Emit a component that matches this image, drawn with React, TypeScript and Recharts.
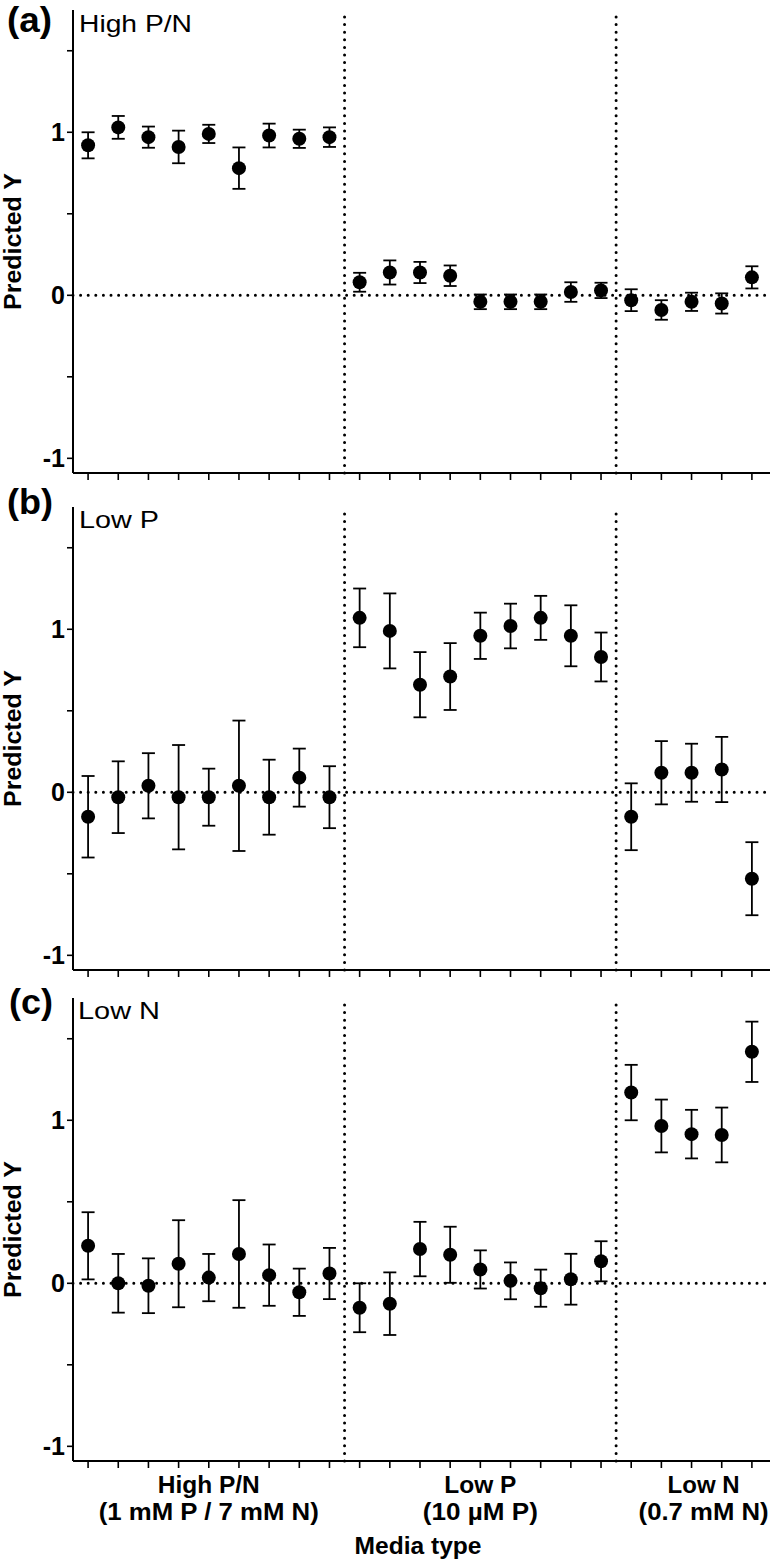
import React from "react";
import { ScatterChart, Scatter, XAxis, YAxis, ErrorBar, ReferenceLine } from "recharts";

// 23 strains per panel: 9 grown in High P/N, 9 in Low P, 5 in Low N
const groupSizes = [9, 9, 5];
const groupNames = ["High P/N", "Low P", "Low N"];
const groupMedia = ["(1 mM P / 7 mM N)", "(10 µM P)", "(0.7 mM N)"];
const groupLabelAt = [4, 13, 20.4];

const yTicks = [-1, -0.5, 0, 0.5, 1, 1.5];

// (a) model trained on High P/N
const highPN = [0.92, 1.03, 0.97, 0.91, 0.99, 0.78, 0.98, 0.96, 0.97, 0.08, 0.14, 0.14, 0.12, -0.04, -0.04, -0.04, 0.02, 0.03, -0.03, -0.09, -0.04, -0.05, 0.11];
const highPNErr = [0.08, 0.07, 0.065, 0.1, 0.056, 0.127, 0.073, 0.056, 0.06, 0.058, 0.074, 0.065, 0.063, 0.045, 0.045, 0.045, 0.06, 0.047, 0.067, 0.06, 0.056, 0.062, 0.068];

// (b) model trained on Low P
const lowP = [-0.15, -0.03, 0.04, -0.03, -0.03, 0.04, -0.03, 0.09, -0.03, 1.07, 0.99, 0.66, 0.71, 0.96, 1.02, 1.07, 0.96, 0.83, -0.15, 0.12, 0.12, 0.14, -0.53];
const lowPErr = [0.25, 0.22, 0.2, 0.32, 0.175, 0.4, 0.23, 0.178, 0.19, 0.18, 0.23, 0.2, 0.205, 0.142, 0.137, 0.135, 0.187, 0.15, 0.205, 0.194, 0.178, 0.2, 0.224];

// (c) model trained on Low N
const lowN = [0.23, 0.0, -0.015, 0.12, 0.035, 0.18, 0.05, -0.055, 0.06, -0.15, -0.125, 0.21, 0.175, 0.085, 0.015, -0.03, 0.025, 0.135, 1.17, 0.965, 0.915, 0.91, 1.42];
const lowNErr = [0.206, 0.18, 0.168, 0.267, 0.145, 0.33, 0.188, 0.145, 0.157, 0.15, 0.192, 0.167, 0.172, 0.117, 0.113, 0.114, 0.156, 0.123, 0.17, 0.162, 0.149, 0.168, 0.185];

const FONT = '"Liberation Sans", Arial, Helvetica, sans-serif';

// the original's typeface is a bit wider than Arial, so stretch the longer strings
const textWidth: Record<string, number> = {
  "High P/N": 102,
  "Low P": 72,
  "Low N": 72,
  "(1 mM P / 7 mM N)": 220,
  "(10 µM P)": 115,
  "(0.7 mM N)": 130,
};

const nPoints = groupSizes.reduce((a, b) => a + b, 0);
const xTicks = Array.from({ length: nPoints }, (_, i) => i);
const dividers = [groupSizes[0] - 0.5, groupSizes[0] + groupSizes[1] - 0.5];
const xDomain = [-0.5, nPoints - 0.4];

const dotted = { stroke: "#000", strokeWidth: 3, strokeDasharray: "0 7.6", strokeLinecap: "round" as const };
const boldText = { fontFamily: FONT, fontWeight: 700, fill: "#000" };

function Dot(props: any) {
  return <circle cx={props.cx} cy={props.cy} r={7} fill="#000" />;
}

function GroupLabel({ viewBox, i }: { viewBox?: any; i: number }) {
  if (!viewBox) return null;
  const x = viewBox.x;
  const bottom = viewBox.y + viewBox.height;
  return (
    <g>
      <text x={x} y={bottom + 32} textAnchor="middle" fontSize={23.5} style={boldText}
        textLength={textWidth[groupNames[i]]} lengthAdjust="spacingAndGlyphs">
        {groupNames[i]}
      </text>
      <text x={x} y={bottom + 59} textAnchor="middle" fontSize={23.5} style={boldText}
        textLength={textWidth[groupMedia[i]]} lengthAdjust="spacingAndGlyphs">
        {groupMedia[i]}
      </text>
    </g>
  );
}

function YTitle({ viewBox }: { viewBox?: any }) {
  if (!viewBox) return null;
  const cx = 12;
  const cy = viewBox.y + viewBox.height / 2;
  return (
    <text x={cx} y={cy} dy={8.5} transform={`rotate(-90 ${cx} ${cy})`} textAnchor="middle" fontSize={23.5}
      style={boldText} textLength={137} lengthAdjust="spacingAndGlyphs">
      Predicted Y
    </text>
  );
}

function Panel({ values, errs, height, marginTop, marginBottom, groups }: { values: number[]; errs: number[]; height: number; marginTop: number; marginBottom: number; groups?: boolean }) {
  const data = values.map((y, i) => ({ x: i, y, err: errs[i] }));
  return (
    <ScatterChart width={774} height={height} margin={{ top: marginTop, right: 4, bottom: marginBottom, left: 0 }}>
      <XAxis
        type="number"
        dataKey="x"
        domain={xDomain}
        ticks={xTicks}
        interval={0}
        allowDataOverflow
        height={17}
        tickSize={7}
        tickFormatter={() => ""}
        axisLine={{ stroke: "#000", strokeWidth: 2 }}
        tickLine={{ stroke: "#000", strokeWidth: 1.6 }}
      />
      <YAxis
        type="number"
        dataKey="y"
        domain={[-1.09, 1.75]}
        ticks={yTicks}
        interval={0}
        allowDataOverflow
        width={73}
        tickSize={6}
        tickMargin={2}
        tickFormatter={(v: number) => (Number.isInteger(v) ? String(v) : "")}
        tick={{ fontFamily: FONT, fontSize: 25, fontWeight: 700, fill: "#000" }}
        axisLine={{ stroke: "#000", strokeWidth: 2 }}
        tickLine={{ stroke: "#000", strokeWidth: 1.6 }}
        label={(p: any) => <YTitle viewBox={p.viewBox} />}
      />
      <ReferenceLine y={0} {...dotted} />
      {dividers.map((d) => (
        <ReferenceLine key={d} x={d} {...dotted} />
      ))}
      {groups &&
        groupLabelAt.map((g, i) => (
          <ReferenceLine key={"g" + i} x={g} stroke="none" label={(p: any) => <GroupLabel viewBox={p.viewBox} i={i} />} />
        ))}
      <Scatter data={data} shape={<Dot />} isAnimationActive={false}>
        <ErrorBar dataKey="err" direction="y" width={6.5} stroke="#000" strokeWidth={1.8} isAnimationActive={false} />
      </Scatter>
    </ScatterChart>
  );
}

export default function App() {
  const letter = { ...boldText, fontSize: 35 };
  const title = { fontFamily: FONT, fontSize: 24.5, fill: "#000" };
  const stretch = "spacingAndGlyphs";
  return (
    <div style={{ position: "absolute", left: 0, top: 0, width: 774, height: 1563, background: "#fff" }}>
      <div style={{ position: "absolute", left: 0, top: 0 }}>
        <Panel values={highPN} errs={highPNErr} height={490} marginTop={10} marginBottom={0} />
      </div>
      <div style={{ position: "absolute", left: 0, top: 490 }}>
        <Panel values={lowP} errs={lowPErr} height={497} marginTop={17} marginBottom={0} />
      </div>
      <div style={{ position: "absolute", left: 0, top: 987 }}>
        <Panel values={lowN} errs={lowNErr} height={576} marginTop={11} marginBottom={85} groups />
      </div>
      <svg width={774} height={1563} style={{ position: "absolute", left: 0, top: 0, pointerEvents: "none" }}>
        <text x={7} y={32} style={letter} textLength={45} lengthAdjust={stretch}>(a)</text>
        <text x={79} y={32} style={title} textLength={113} lengthAdjust={stretch}>High P/N</text>
        <text x={7} y={514} style={letter} textLength={46} lengthAdjust={stretch}>(b)</text>
        <text x={79} y={528} style={title} textLength={80} lengthAdjust={stretch}>Low P</text>
        <text x={9} y={1014} style={letter} textLength={44} lengthAdjust={stretch}>(c)</text>
        <text x={78} y={1019} style={title} textLength={82} lengthAdjust={stretch}>Low N</text>
        <text x={418} y={1554} textAnchor="middle" style={{ ...boldText, fontSize: 23 }} textLength={127} lengthAdjust={stretch}>
          Media type
        </text>
      </svg>
    </div>
  );
}
